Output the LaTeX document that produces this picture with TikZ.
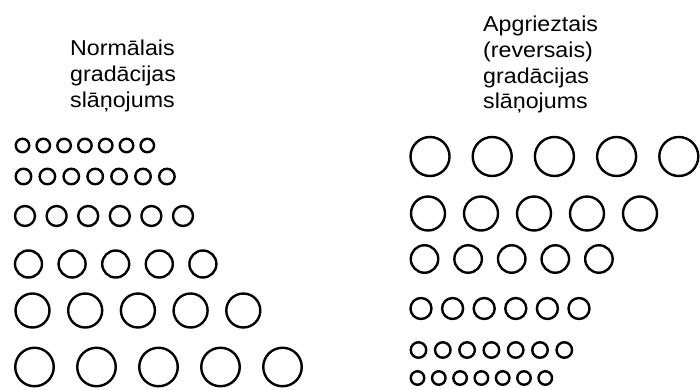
\documentclass[tikz,border=0pt]{standalone}
\usepackage{fontspec}
\setmainfont{Liberation Sans}[FakeStretch=1.08]
\newcommand\circrow[5]{% x0, y, diameter, pitch, count
  \foreach \k in {1,...,#5}{\draw[ring] ({#1+#4*(\k-1)}, #2) circle[radius={(#3)*0.5pt}];}}
\begin{document}
\begin{tikzpicture}[x=1pt,y=-1pt,
  ring/.style={line width=2.4pt, draw=black},
  lbl/.style={inner sep=0pt, anchor=base west, font=\fontsize{21.5}{26}\selectfont}]
\useasboundingbox (0,0) rectangle (700,390);
\fill[white] (0,0) rectangle (700,390);
% left title
\node[lbl] (l1) at (70,56) {Normālais};
\node[lbl] (l2) at (70,82) {gradācijas};
\node[lbl] (l3) at (70,108) {slāņojums};
% right title
\node[lbl] (r1) at (483,32) {Apgrieztais};
\node[lbl] (r2) at (483,58) {(reversais)};
\node[lbl] (r3) at (483,84) {gradācijas};
\node[lbl] (r4) at (483,109) {slāņojums};
% left column (normal grading)
\circrow{22.5}{145.5}{13.5}{20.8}{7}
\circrow{23.5}{176.5}{15.5}{23.9}{7}
\circrow{25}{216}{20}{31.6}{6}
\circrow{28.5}{264}{27}{43.6}{5}
\circrow{32.5}{310.5}{34}{52.7}{5}
\circrow{34.5}{367}{38.5}{62}{5}
% right column (reverse grading)
\circrow{430}{156.5}{39}{62.2}{5}
\circrow{428}{213.5}{34}{53}{5}
\circrow{424.5}{259}{27.5}{43.6}{5}
\circrow{421}{308.5}{21}{31.6}{6}
\circrow{418.5}{350}{15.5}{24.3}{7}
\circrow{417.5}{378}{13.5}{21.3}{7}
\end{tikzpicture}
\end{document}
